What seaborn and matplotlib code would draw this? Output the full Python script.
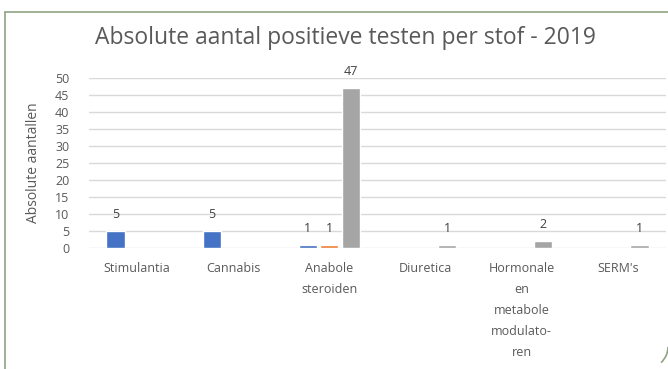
import numpy as np
import pandas as pd
import matplotlib
matplotlib.use("Agg")
import matplotlib.pyplot as plt
from matplotlib.lines import Line2D
from matplotlib.patches import Arc
import seaborn as sns

categories = ["Stimulantia", "Cannabis", "Anabole\nsteroiden", "Diuretica",
              "Hormonale\nen\nmetabole\nmodulato-\nren", "SERM's"]
series_names = ["Reeks 1", "Reeks 2", "Reeks 3"]
reeks1 = [5, 5, 1, np.nan, np.nan, np.nan]
reeks2 = [np.nan, np.nan, 1, np.nan, np.nan, np.nan]
reeks3 = [np.nan, np.nan, 47, 1, 2, 1]
colors = ["#4472C4", "#ED7D31", "#A5A5A5"]

rows = []
for name, vals in zip(series_names, [reeks1, reeks2, reeks3]):
    for c, v in zip(categories, vals):
        if not np.isnan(v):
            rows.append({"stof": c, "reeks": name, "aantal": v})
df = pd.DataFrame(rows)

sns.set_theme(style="white")
plt.rcParams['font.family'] = ['Open Sans', 'DejaVu Sans']

fig = plt.figure(figsize=(6.68, 3.69), dpi=100)
ax = fig.add_axes([0.133, 0.328, 0.864, 0.461])

sns.barplot(data=df, x="stof", y="aantal", hue="reeks", order=categories,
            hue_order=series_names, palette=colors, width=0.67, gap=0.15,
            legend=False, ax=ax, errorbar=None, saturation=1)

ax.set_ylim(0, 50)
ax.set_yticks(range(0, 51, 5))
ax.yaxis.grid(True, color="#D9D9D9", linewidth=1)
ax.set_axisbelow(True)
for s in ax.spines.values():
    s.set_visible(False)
ax.tick_params(axis="both", length=0, colors="#595959", labelsize=9)
ax.tick_params(axis="x", pad=10)
ax.tick_params(axis="y", pad=14)
for lab in ax.get_xticklabels():
    lab.set_linespacing(1.8)
    lab.set_verticalalignment("top")
ax.set_xlabel("")
ax.set_ylabel("Absolute aantallen", color="#595959", fontsize=10, labelpad=10)

for cont in ax.containers:
    ax.bar_label(cont, fmt="%d", padding=7, color="#404040", fontsize=9, clip_on=False)

fig.text(0.517, 0.897, "Absolute aantal positieve testen per stof - 2019",
         ha="center", va="center", fontsize=16.5, color="#595959")

# outer frame
fig.add_artist(Line2D([0.0075, 1.0], [0.967, 0.967], color="#8FA383", lw=1.2,
                      transform=fig.transFigure))
fig.add_artist(Line2D([0.0075, 0.0075], [0.0, 0.967], color="#8FA383", lw=1.2,
                      transform=fig.transFigure))
fig.add_artist(Arc((0.965, 0.06), 0.07, 0.12, theta1=300, theta2=360,
                   color="#8FA383", lw=1.2, transform=fig.transFigure))

fig.savefig("out.png", dpi=100)
